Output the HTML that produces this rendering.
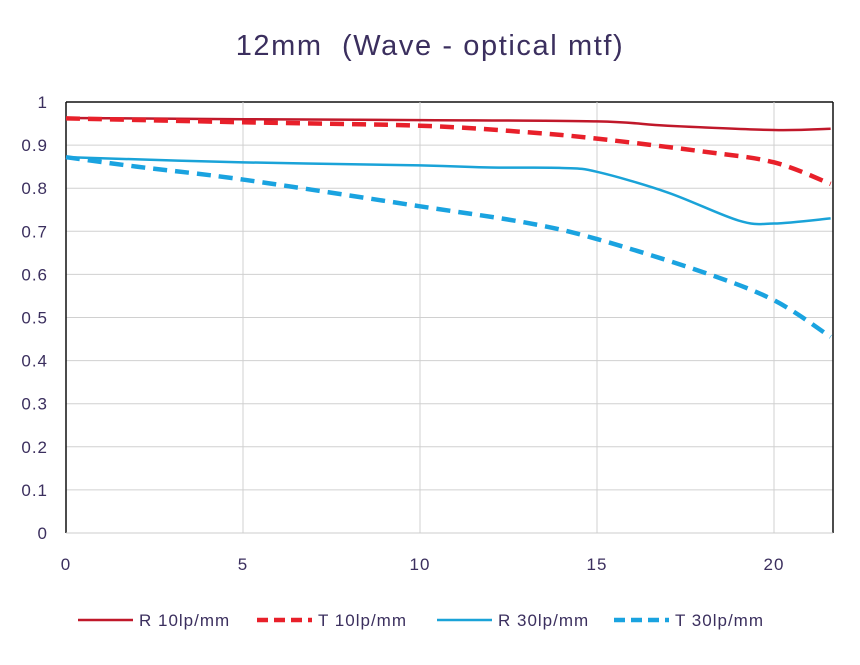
<!DOCTYPE html>
<html><head><meta charset="utf-8"><style>
body{margin:0;background:#fff;}
svg text{font-family:"Liberation Sans",sans-serif;}
</style></head><body>
<svg width="860" height="660" xmlns="http://www.w3.org/2000/svg">
<rect width="860" height="660" fill="#fff"/>
<text x="430" y="55" text-anchor="middle" font-size="29" letter-spacing="1.6" fill="#3b2f5e" xml:space="preserve">12mm  (Wave - optical mtf)</text>
<g id="grid"></g><g id="series"></g><g id="legend"></g>
</svg>
<script>
const xTicks=[0,5,10,15,20];
const yTicks=[0,0.1,0.2,0.3,0.4,0.5,0.6,0.7,0.8,0.9,1];
const xR10=[0,5,10,15,17,20,21.6];
const yR10=[0.963,0.96,0.958,0.955,0.945,0.935,0.938];
const xT10=[0,5,10,13,15,18,20,21.6];
const yT10=[0.962,0.953,0.945,0.93,0.915,0.885,0.86,0.81];
const xR30=[0,5,10,12,14,15,17,19,20,21.6];
const yR30=[0.872,0.86,0.853,0.848,0.847,0.838,0.79,0.725,0.718,0.73];
const xT30=[0,2,5,10,13,15,18,20,21.6];
const yT30=[0.872,0.85,0.82,0.758,0.72,0.682,0.605,0.54,0.455];
const X0=66,X1=833,Y0=533,Y1=102,XMAX=21.6;
const sx=v=>X0+v*(774-X0)/20;
const sy=v=>Y0-v*(Y0-Y1);
const NS="http://www.w3.org/2000/svg";
function mk(tag,attrs,parent){const e=document.createElementNS(NS,tag);for(const k in attrs)e.setAttribute(k,attrs[k]);parent.appendChild(e);return e;}
const grid=document.getElementById('grid');
yTicks.forEach(t=>{
  const l=mk('line',{x1:X0,x2:X1,y1:sy(t),y2:sy(t),stroke:t===1?'#111':'#d0d0d0','stroke-width':t===1?1.5:1},grid);
  
  
  const tx=mk('text',{x:48,y:sy(t)+6,'text-anchor':'end','font-size':17,'letter-spacing':1,fill:'#3b2f5e'},grid);
  tx.textContent=String(t);
  
  
});
xTicks.forEach(t=>{
  if(t>0){const l=mk('line',{x1:sx(t),x2:sx(t),y1:Y1,y2:Y0,stroke:'#d0d0d0','stroke-width':1},grid);
  
  }
  const tx=mk('text',{x:sx(t),y:570,'text-anchor':'middle','font-size':17,'letter-spacing':1,fill:'#3b2f5e'},grid);
  tx.textContent=String(t);
  
  
});
let ax=mk('line',{x1:X0,x2:X0,y1:Y1,y2:Y0,stroke:'#111','stroke-width':1.5},grid);


ax=mk('line',{x1:X1,x2:X1,y1:Y1,y2:Y0,stroke:'#111','stroke-width':1.5},grid);


ax=mk('line',{x1:X0,x2:X1,y1:Y0,y2:Y0,stroke:'#ccc','stroke-width':1},grid);


function pathD(xs,ys){
  const p=xs.map((x,i)=>[sx(x),sy(ys[i])]);
  let d='M'+p[0][0]+','+p[0][1];
  for(let i=0;i<p.length-1;i++){
    const p0=p[i-1]||p[i],p1=p[i],p2=p[i+1],p3=p[i+2]||p2;
    const c1=[p1[0]+(p2[0]-p0[0])/6,p1[1]+(p2[1]-p0[1])/6];
    const c2=[p2[0]-(p3[0]-p1[0])/6,p2[1]-(p3[1]-p1[1])/6];
    d+=' C'+c1+' '+c2+' '+p2;
  }
  return d;
}
const ser=document.getElementById('series');
const defs=[
 [xR10,yR10,'#c0182a',2.5,'','series-r10'],
 [xT10,yT10,'#e8202a',4.5,'14 8','series-t10'],
 [xR30,yR30,'#1aa3d8',2.5,'','series-r30'],
 [xT30,yT30,'#1aa3e0',4.5,'14 8','series-t30']];
defs.forEach(s=>{
  const e=mk('path',{d:pathD(s[0],s[1]),fill:'none',stroke:s[2],'stroke-width':s[3],'stroke-dasharray':s[4]},ser);
  
  
});
const leg=document.getElementById('legend');
const labels=['R 10lp/mm','T 10lp/mm','R 30lp/mm','T 30lp/mm'];
const lx=[78,257,437,614];
labels.forEach((t,i)=>{
  const s=defs[i];
  const l=mk('line',{x1:lx[i],x2:lx[i]+55,y1:620,y2:620,stroke:s[2],'stroke-width':s[3],'stroke-dasharray':s[4]?'11 6':''},leg);
  
  
  const tx=mk('text',{x:lx[i]+61,y:626,'font-size':17,'letter-spacing':1,fill:'#3b2f5e'},leg);
  tx.textContent=t;
  
  
});
</script>
</body></html>
